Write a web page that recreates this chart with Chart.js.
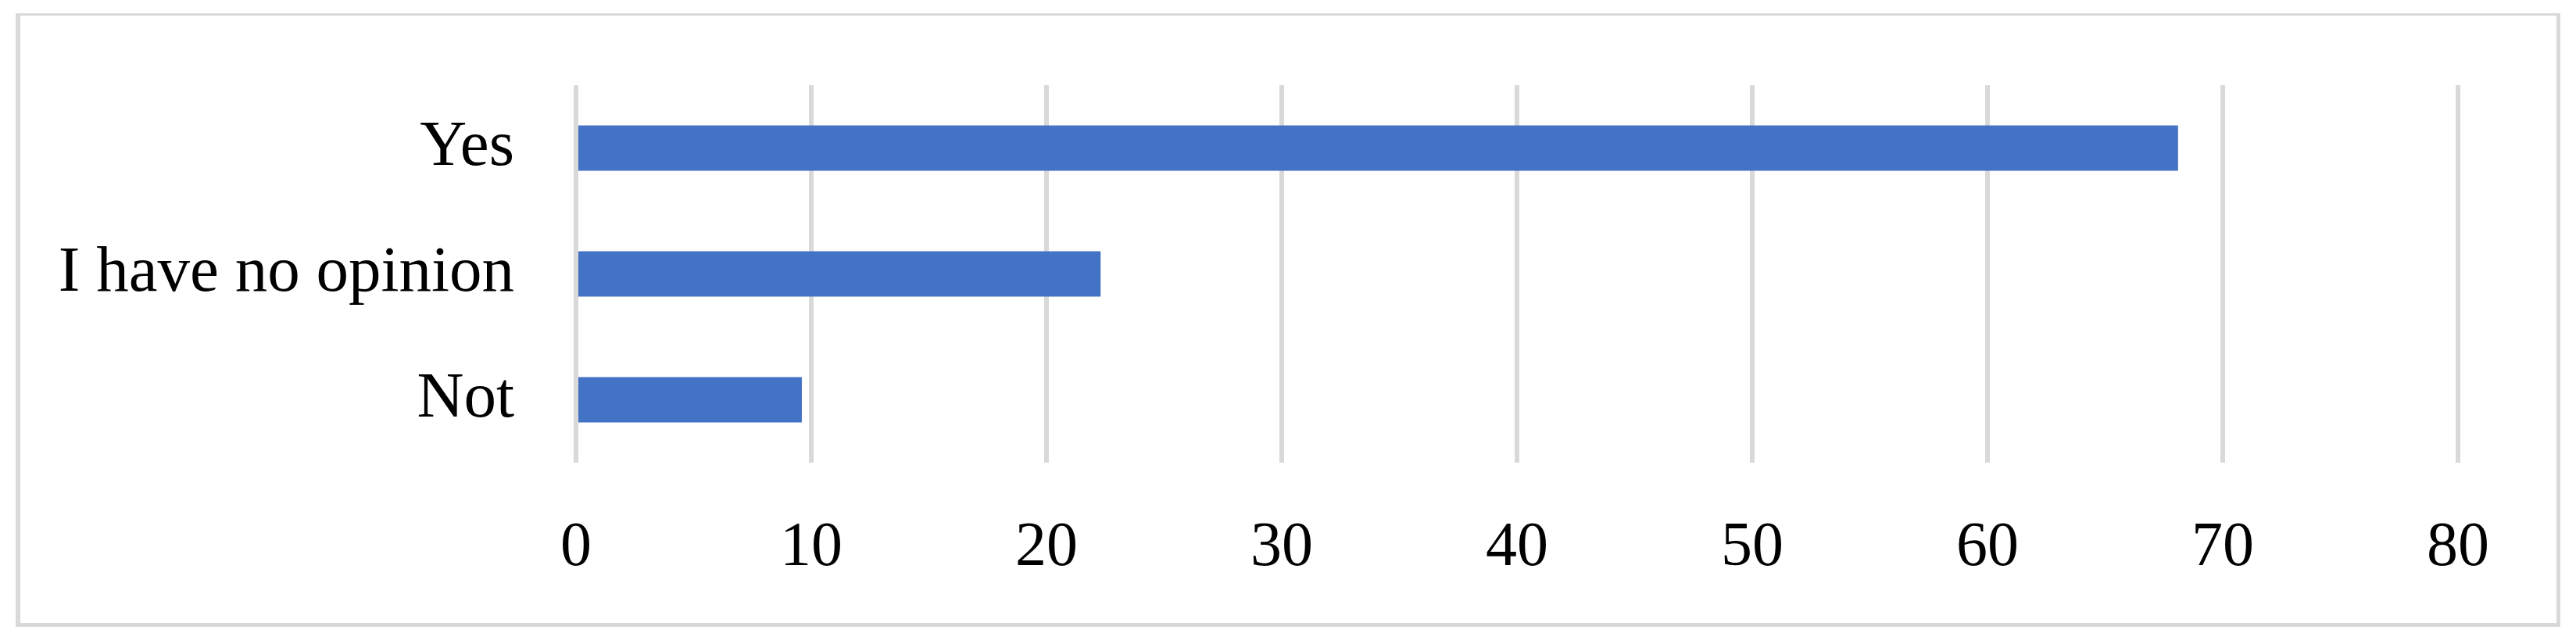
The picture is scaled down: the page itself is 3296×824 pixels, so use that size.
<!DOCTYPE html>
<html>
<head>
<meta charset="utf-8">
<script src="https://cdn.jsdelivr.net/npm/chart.js@4"></script>
<style>
  html, body { margin: 0; padding: 0; background: #ffffff; }
  #wrap { position: relative; width: 3296px; height: 824px; }
  #frame {
    position: absolute; left: 20px; top: 17px; width: 3256px; height: 785px;
    box-sizing: border-box;
    border-left: 6px solid #d9d9d9; border-right: 5px solid #d9d9d9;
    border-top: 3px solid #d9d9d9; border-bottom: 5px solid #d9d9d9;
  }
  canvas { position: absolute; left: 0; top: 0; }
</style>
</head>
<body>
<div id="wrap">
  <div id="frame"></div>
  <canvas id="c" width="3296" height="824"></canvas>
</div>
<script>
const categories = ['Yes', 'I have no opinion', 'Not'];
const values = [68.1, 22.3, 9.6];
const xTicks = [0, 10, 20, 30, 40, 50, 60, 70, 80];

const FONT = "'Liberation Serif', 'Times New Roman', serif";

new Chart(document.getElementById('c'), {
  type: 'bar',
  data: {
    labels: categories,
    datasets: [{
      data: values,
      backgroundColor: '#4472C4',
      borderWidth: 0,
      categoryPercentage: 1.0,
      barPercentage: 0.36
    }]
  },
  options: {
    indexAxis: 'y',
    responsive: false,
    animation: false,
    devicePixelRatio: 1,
    layout: { padding: { top: 109, right: 151, bottom: 0, left: 0 } },
    plugins: { legend: { display: false }, tooltip: { enabled: false } },
    scales: {
      x: {
        min: xTicks[0],
        max: xTicks[xTicks.length - 1],
        afterBuildTicks: (scale) => { scale.ticks = xTicks.map(v => ({ value: v })); },
        grid: { color: '#d9d9d9', lineWidth: 6, drawTicks: false, drawOnChartArea: true },
        border: { display: false },
        ticks: { color: '#000000', font: { family: FONT, size: 80 }, padding: 62, maxRotation: 0 },
        afterFit: (scale) => { scale.height = 232; scale.paddingLeft = 0; scale.paddingRight = 0; }
      },
      y: {
        grid: { display: false, drawTicks: false },
        border: { display: false },
        ticks: { color: '#000000', font: { family: FONT, size: 83 }, padding: 79 },
        afterFit: (scale) => { scale.width = 737; scale.paddingTop = 0; scale.paddingBottom = 0; }
      }
    }
  }
});
</script>
</body>
</html>
